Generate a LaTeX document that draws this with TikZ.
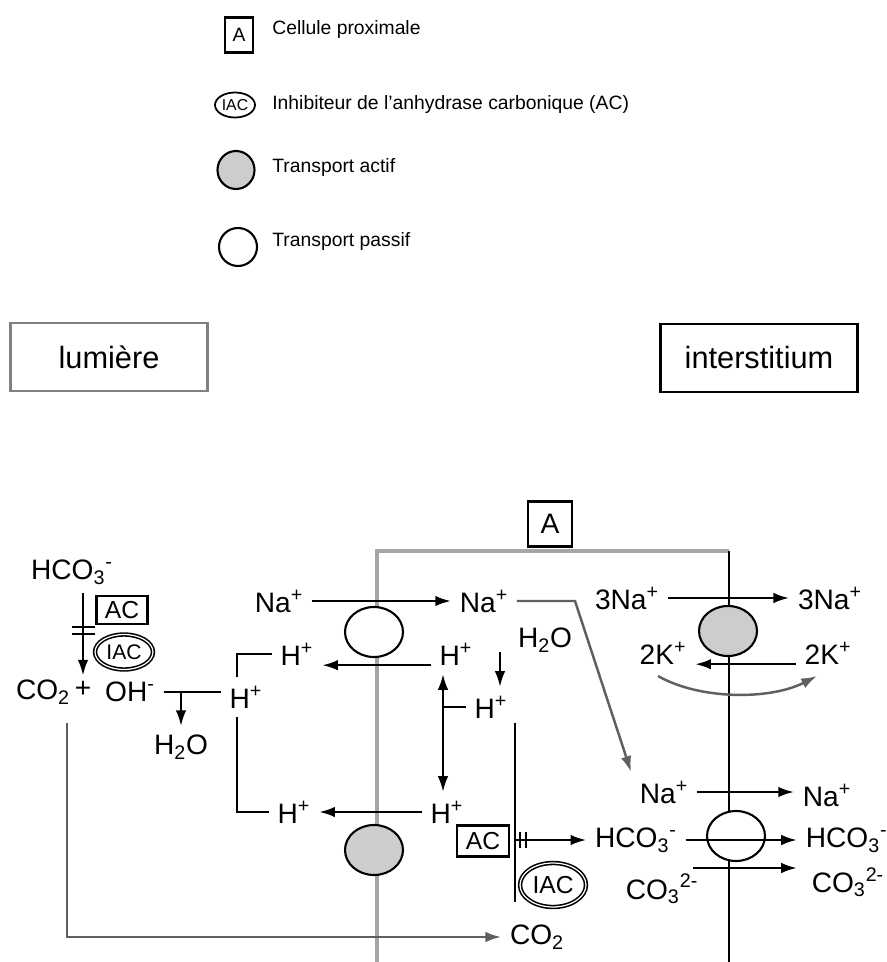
\documentclass[tikz,border=0pt]{standalone}
\usepackage{fontspec}
\setmainfont{Liberation Sans}
\usetikzlibrary{arrows.meta,positioning,shapes.geometric,calc}
\definecolor{membgris}{RGB}{165,165,165}
\definecolor{pompegris}{RGB}{205,205,205}
\definecolor{traitgris}{RGB}{95,95,95}
\tikzset{
  spec/.style={font=\fontsize{16}{18}\selectfont, inner sep=1pt, outer sep=4pt},
  leg/.style={font=\fontsize{11}{13}\selectfont, anchor=west, inner sep=0pt},
  titre/.style={draw, line width=1.7pt, font=\fontsize{17.5}{20}\selectfont, minimum width=3.94cm, minimum height=1.36cm},
  actif/.style={ellipse, draw, line width=1.2pt, fill=pompegris, minimum width=1.16cm, minimum height=1cm},
  passif/.style={ellipse, draw, line width=1.2pt, fill=white, minimum width=1.16cm, minimum height=1cm},
  enz/.style={draw, line width=1.2pt, inner sep=0pt, font=\fontsize{14}{16}\selectfont},
  inhib/.style={ellipse, draw, line width=0.9pt, double, double distance=0.7pt, inner sep=0pt},
  arr/.style={-{Latex[length=9pt,width=6pt]}, line width=1.4pt},
  darr/.style={{Latex[length=9pt,width=6pt]}-{Latex[length=9pt,width=6pt]}, line width=1.4pt},
  lien/.style={line width=1.4pt}}

\begin{document}
\begin{tikzpicture}[x=0.02cm, y=-0.02cm]
  \useasboundingbox (0,0) rectangle (886,962);
  % legende
  \node[draw, line width=1.2pt, minimum width=0.56cm, minimum height=0.7cm, inner sep=0pt, font=\fontsize{11}{12}\selectfont] (legA) at (239,35) {A};
  \node[leg] (legAtxt) at (272,30) {Cellule proximale};
  \node[ellipse, draw, line width=1pt, inner sep=0pt, minimum width=0.8cm, minimum height=0.5cm, font=\fontsize{9}{10}\selectfont] (legIAC) at (235,105) {IAC};
  \node[leg] (legIACtxt) at (272,105) {Inhibiteur de l'anhydrase carbonique (AC)};
  \node[actif, minimum width=0.74cm, minimum height=0.76cm] (legActif) at (236,170) {};
  \node[leg] (legActiftxt) at (272,168) {Transport actif};
  \node[passif, minimum width=0.76cm, minimum height=0.76cm] (legPassif) at (238,247) {};
  \node[leg] (legPassiftxt) at (272,242) {Transport passif};

  \node[titre, draw=gray] (lumiere) at (109,357) {lumière};
  \node[titre] (interstitium) at (759,358) {interstitium};

  % cellule
  \draw[membgris, line width=2.2pt] (377,962) -- (377,551) -- (729,551);
  \draw[line width=1.6pt] (729,551) -- (729,962);
  \node[draw, line width=1.4pt, minimum width=0.88cm, minimum height=0.9cm, font=\fontsize{16}{18}\selectfont] (cellA) at (550,524) {A};

  \node[passif] (nhe) at (374,632) {};
  \node[actif] (hpompe) at (374,850) {};
  \node[actif] (nak) at (728,631) {};
  \node[passif] (nbc) at (736,836) {};

  % especes
  \node[spec] (hco3L) at (72,572) {HCO\textsubscript{3}\textsuperscript{-}};
  \node[spec] (co2L) at (43,692) {CO\textsubscript{2}};
  \node[spec, outer sep=2pt] (plusL) at (83,689) {+};
  \node[spec] (ohL) at (130,692) {OH\textsuperscript{-}};
  \node[spec] (h2oL) at (181,747) {H\textsubscript{2}O};
  \node[spec] (hL0) at (246,697) {H\textsuperscript{+}};
  \node[spec] (hL1) at (297,654) {H\textsuperscript{+}};
  \node[spec] (hL2) at (294,812) {H\textsuperscript{+}};
  \node[spec] (naL) at (279,601) {Na\textsuperscript{+}};

  \node[spec] (naC) at (484,601) {Na\textsuperscript{+}};
  \node[spec] (hC1) at (456,654) {H\textsuperscript{+}};
  \node[spec] (hC2) at (447,812) {H\textsuperscript{+}};
  \node[spec] (hC3) at (491,707) {H\textsuperscript{+}};
  \node[spec] (h2oC) at (545,640) {H\textsubscript{2}O};
  \node[spec] (na3C) at (627,598) {3Na\textsuperscript{+}};
  \node[spec] (k2C) at (663,653) {2K\textsuperscript{+}};
  \node[spec] (naB) at (664,792) {Na\textsuperscript{+}};
  \node[spec] (hco3C) at (636,840) {HCO\textsubscript{3}\textsuperscript{-}};
  \node[spec] (co3C) at (662,889) {CO\textsubscript{3}\textsuperscript{2-}};
  \node[spec] (co2C) at (537,937) {CO\textsubscript{2}};

  \node[spec] (na3O) at (830,598) {3Na\textsuperscript{+}};
  \node[spec] (k2O) at (828,653) {2K\textsuperscript{+}};
  \node[spec] (naO) at (827,795) {Na\textsuperscript{+}};
  \node[spec, anchor=west] (hco3O) at (797,840) {HCO\textsubscript{3}\textsuperscript{-}};
  \node[spec, anchor=west] (co3O) at (803,882) {CO\textsubscript{3}\textsuperscript{2-}};

  \node[enz, minimum width=1.02cm, minimum height=0.56cm] (acL) at (122,610) {AC};
  \node[inhib, minimum width=1.16cm, minimum height=0.7cm, font=\fontsize{12}{14}\selectfont] (iacL) at (124,652) {IAC};
  \node[enz, minimum width=1.04cm, minimum height=0.62cm] (acC) at (483,841) {AC};
  \node[inhib, minimum width=1.32cm, minimum height=0.88cm, font=\fontsize{14}{16}\selectfont] (iacC) at (553,885) {IAC};

  % lumiere
  \draw[arr] (hco3L.south -| plusL.north) -- (plusL.north);
  \coordinate (barreL) at (83,630);
  \draw[lien, line width=1pt] ($(barreL)+(-11,-3)$) -- ++(23,0) ($(barreL)+(-11,4)$) -- ++(23,0);
  \draw[lien] (ohL.east) -- (ohL.east -| hL0.west);
  \draw[arr] (ohL.east -| h2oL.north) -- (h2oL.north);
  \coordinate (crochet) at (237,700);
  \draw[lien] (hL1.west) -| (crochet |- hL0.north);
  \draw[lien] (hL2.west) -| (crochet |- hL0.south);
  \coordinate (co2dep) at (67,723);
  \draw[arr, draw=traitgris] (co2dep) |- (co2C.west);

  % membrane apicale
  \draw[arr] (naL) -- (naC);
  \draw[arr] (hC1.base west) -- (hL1.base east);
  \draw[arr] (hC2) -- (hL2);

  % cellule
  \coordinate (axeH) at (443,700);
  \draw[darr] (hC1.south -| axeH) -- (hC2.north -| axeH);
  \draw[lien] (axeH |- hC3) -- (hC3.west);
  \coordinate (eauDep) at (500,652);
  \draw[arr] (eauDep) -- (eauDep |- hC3.north);
  \coordinate (reacHaut) at (515,723);
  \coordinate (reacBas) at (515,902);
  \draw[lien] (reacHaut) -- (reacBas);
  \draw[arr] (reacBas |- hco3C) -- (hco3C.west);
  \coordinate (barreC) at (523,840);
  \draw[lien, line width=1pt] ($(barreC)+(-3,-8)$) -- ++(0,16) ($(barreC)+(3,-8)$) -- ++(0,16);
  \coordinate (coude) at (575,601);
  \draw[arr, draw=traitgris] (naC.east) -- (coude) -- (naB.north west);

  % membrane basolaterale
  \draw[arr] (na3C) -- (na3O);
  \draw[arr] (k2O.base west) -- (k2C.base east);
  \coordinate (kDeb) at (658,676);
  \coordinate (kFin) at (817,676);
  \draw[arr, draw=traitgris] (kDeb) .. controls (700,700) and (770,700) .. (kFin);
  \draw[arr] (naB.east) -- (naB.east -| naO.west);
  \draw[arr] (hco3C.east) -- (hco3O.west);
  \coordinate (co3Lig) at (693,868);
  \draw[arr] (co3Lig) -- (co3Lig -| hco3O.west);
\end{tikzpicture}
\end{document}
